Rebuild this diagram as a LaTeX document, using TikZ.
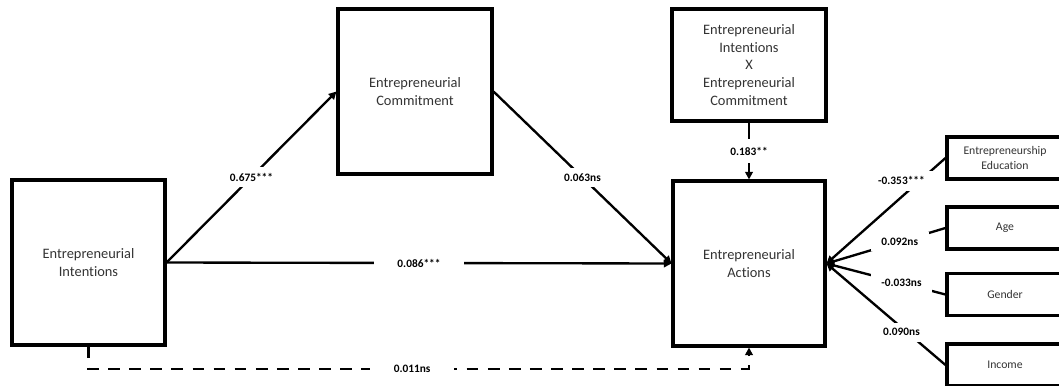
\documentclass[tikz,border=0pt]{standalone}
\usepackage{fontspec}
\setmainfont{Carlito}[Ligatures=NoCommon]
\usepackage{xcolor}
\usepackage{tikz}
\usetikzlibrary{arrows.meta,calc}
\definecolor{boxtext}{HTML}{333333}
\definecolor{edge}{HTML}{000000}

\tikzset{
  var/.style={draw=edge, line width=2.6pt, align=center, text=boxtext, inner sep=0pt,
    font=\fontsize{12.3}{15.3}\selectfont},
  ctrl/.style={draw=edge, line width=2.6pt, align=center, text=boxtext, inner sep=0pt,
    minimum width=3.48cm, minimum height=1.26cm, font=\fontsize{10}{12.5}\selectfont},
  link/.style={edge, line width=2pt, -{Triangle[length=6.5pt,width=6.5pt]}},
  coef/.style={fill=white, text=black, inner xsep=12pt, inner ysep=5pt,
    font=\fontsize{9.7}{11}\selectfont\bfseries}
}

\begin{document}
\begin{tikzpicture}[x=0.03cm, y=-0.03cm]
  \useasboundingbox (0,0) rectangle (1059,385);
  \clip (0,0) rectangle (1059,385);
  % constructs
  \node[var, minimum width=4.59cm, minimum height=4.95cm] (int) at (88.5,262.5) {Entrepreneurial\\Intentions};
  \node[var, minimum width=4.62cm, minimum height=4.95cm] (com) at (415,91.5) {Entrepreneurial\\Commitment};
  \node[var, minimum width=4.62cm, minimum height=3.36cm] (mod) at (749,65) {Entrepreneurial\\Intentions\\X\\Entrepreneurial\\Commitment};
  \node[var, minimum width=4.56cm, minimum height=4.95cm] (act) at (749,263.5) {Entrepreneurial\\Actions};
  % paths
  \draw[link] (int.east) -- node[coef] (c-a) {0.675***} (com.west);
  \draw[link] (com.east) -- node[coef] (c-b) {0.063ns} (act.west);
  \draw[link] (int.east) -- node[coef, inner xsep=20pt] (c-dir) {0.086***} (act.west);
  \draw[link] (mod.south) -- node[coef, inner ysep=7pt] (c-mod) {0.183**} (act.north);
  \coordinate (dl) at (89,369);
  \draw[link, line width=2.2pt, dash pattern=on 10pt off 8pt] (int.south) -- (int.south |- dl)
    -- node[coef, inner xsep=20pt, pos=0.49] (c-tot) {0.011ns} (act.south |- dl) -- (act.south);
  % controls
  \foreach \y/\name/\txt/\val/\p/\sh in {158/edu/{Entrepreneurship\\Education}/-0.353***/0.37/14pt,
      228/age/Age/0.092ns/0.385/0pt, 294.5/gen/Gender/-0.033ns/0.37/0pt, 365/inc/Income/0.090ns/0.37/-4pt} {
    \node[ctrl] (\name) at (1005,\y) {\txt};
    \draw[link] (\name.west) -- node[coef, inner xsep=9pt, pos=\p, yshift=\sh] (c-\name) {\val} (act.east);
  }
\end{tikzpicture}
\end{document}
